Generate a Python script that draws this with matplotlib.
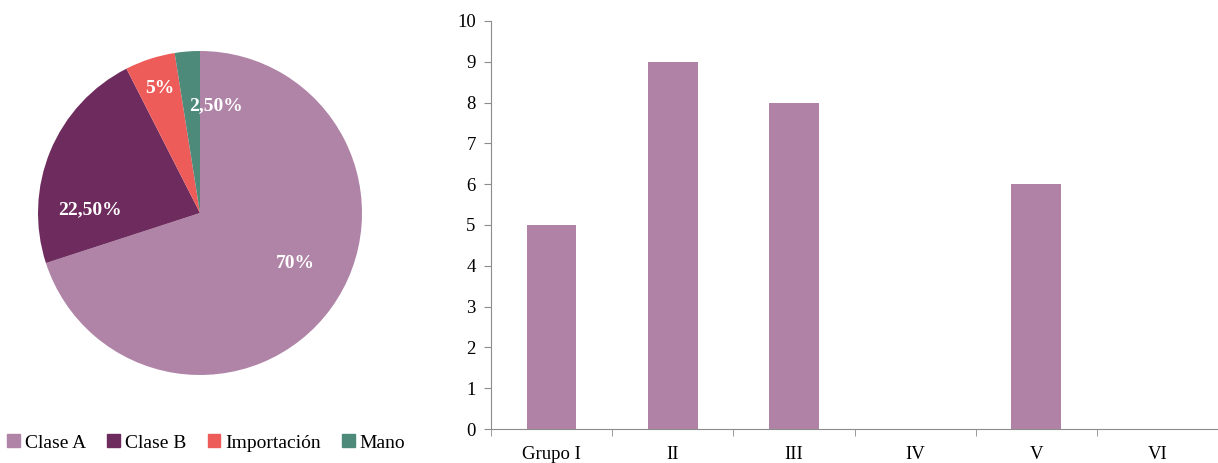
import matplotlib
matplotlib.use("Agg")
import matplotlib.pyplot as plt
import numpy as np

plt.rcParams['font.family'] = ['Liberation Serif', 'DejaVu Serif']

# ── Data ────────────────────────────────────────────────────────────────
pie_labels = ['Clase A', 'Clase B', 'Importación', 'Mano']
pie_values = [70, 22.5, 5, 2.5]
pie_texts = ['70%', '22,50%', '5%', '2,50%']
pie_colors = ['#B084A7', '#6E2C5E', '#EE5C5A', '#4E8A7A']

groups = ['Grupo I', 'II', 'III', 'IV', 'V', 'VI']
counts = [5, 9, 8, 0, 6, 0]
bar_color = '#B083A6'
axis_color = '#8C8C8C'

W, H = 1218, 463
fig = plt.figure(figsize=(W / 100, H / 100), dpi=100)

# ── Pie ─────────────────────────────────────────────────────────────────
cx, cy, r = 200, 213, 162
axp = fig.add_axes([(cx - r) / W, (H - cy - r) / H, 2 * r / W, 2 * r / H])
wedges, _ = axp.pie(pie_values, colors=pie_colors, startangle=90,
                    counterclock=False, radius=1.0,
                    wedgeprops=dict(linewidth=0))
axp.set_xlim(-1, 1)
axp.set_ylim(-1, 1)
axp.set_aspect('equal')
axp.axis('off')

# label placement inside each wedge (fraction of radius)
label_pos = [(0.59, -0.31), (-0.68, 0.02), (-0.25, 0.77), (0.10, 0.66)]
for txt, (lx, ly) in zip(pie_texts, label_pos):
    axp.text(lx, ly, txt, ha='center', va='center',
             color='white', fontsize=14, fontweight='bold')

handles = [plt.Rectangle((0, 0), 1, 1, color=c) for c in pie_colors]
fig.legend(handles, pie_labels, loc='center left', bbox_to_anchor=(0.006, 0.043),
           ncol=4, frameon=False, fontsize=14, handlelength=0.65,
           handleheight=0.65, handletextpad=0.25, columnspacing=1.1,
           borderaxespad=0, borderpad=0)

# ── Bars ────────────────────────────────────────────────────────────────
axb = fig.add_axes([491 / W, (H - 429) / H, (1218 - 491) / W, (429 - 21) / H])
x = np.arange(len(groups))
axb.bar(x, counts, width=0.41, color=bar_color)
axb.set_xlim(-0.5, len(groups) - 0.5)
axb.set_ylim(0, 10)
axb.set_yticks(range(0, 11))
axb.set_xticks(x)
axb.set_xticklabels(groups)
axb.set_xticks(np.arange(-0.5, len(groups)), minor=True)
axb.tick_params(axis='x', which='major', length=0, pad=12, labelsize=13.5)
axb.tick_params(axis='x', which='minor', length=5, color=axis_color, direction='out')
axb.tick_params(axis='y', length=5, color=axis_color, direction='out', labelsize=13.5, pad=6)
for side in ('top', 'right'):
    axb.spines[side].set_visible(False)
for side in ('left', 'bottom'):
    axb.spines[side].set_color(axis_color)

fig.savefig('out.png', dpi=100)
